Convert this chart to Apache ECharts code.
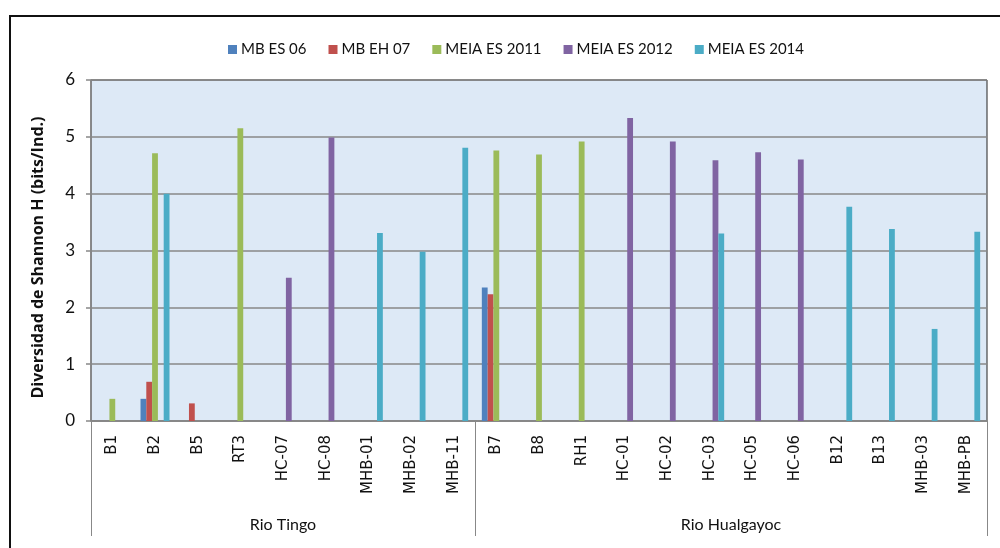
<!DOCTYPE html>
<html>
<head>
<meta charset="utf-8">
<script src="https://cdn.jsdelivr.net/npm/echarts@6/dist/echarts.min.js"></script>
<style>
  html, body { margin: 0; padding: 0; background: #fff; overflow: hidden; }
  #chart { position: absolute; left: 0; top: 0; width: 1000px; height: 548px; }
  #frame { position: absolute; left: 9px; top: 15px; width: 1000px; height: 600px;
           border: 2px solid #111; pointer-events: none; }
</style>
</head>
<body>
<div id="chart"></div>
<div id="frame"></div>
<script>
// categories (sites) and river groups
const sites = ['B1', 'B2', 'B5', 'RT3', 'HC-07', 'HC-08', 'MHB-01', 'MHB-02', 'MHB-11',
  'B7', 'B8', 'RH1', 'HC-01', 'HC-02', 'HC-03', 'HC-05', 'HC-06', 'B12', 'B13', 'MHB-03', 'MHB-PB']
const groups = ['Rio Tingo', 'Rio Hualgayoc']
const groupSizes = [9, 12]

const seriesNames = ['MB ES 06', 'MB EH 07', 'MEIA ES 2011', 'MEIA ES 2012', 'MEIA ES 2014']
const seriesColors = ['#4f81bd', '#c0504d', '#9bbb59', '#8064a2', '#4bacc6']

// Shannon H per site (null = no sample)
const mbEs06 = [null, 0.39, null, null, null, null, null, null, null,
  2.35, null, null, null, null, null, null, null, null, null, null, null]
const mbEh07 = [null, 0.69, 0.31, null, null, null, null, null, null,
  2.23, null, null, null, null, null, null, null, null, null, null, null]
const meia2011 = [0.39, 4.71, null, 5.15, null, null, null, null, null,
  4.76, 4.69, 4.92, null, null, null, null, null, null, null, null, null]
const meia2012 = [null, null, null, null, 2.52, 4.99, null, null, null,
  null, null, null, 5.33, 4.92, 4.59, 4.73, 4.60, null, null, null, null]
const meia2014 = [null, 4.0, null, null, null, null, 3.31, 2.98, 4.81,
  null, null, null, null, null, 3.30, null, null, 3.77, 3.38, 1.62, 3.33]

const yTicks = [0, 1, 2, 3, 4, 5, 6]

const seriesData = [mbEs06, mbEh07, meia2011, meia2012, meia2014]

// group axis in half-category steps: labels at each group's centre,
// long ticks at the group boundaries
const groupAxis = []
for (let i = 0; i <= sites.length * 2; i++) groupAxis.push('')
const boundaries = [0]
let start = 0
groupSizes.forEach((n, gi) => {
  groupAxis[2 * start + n] = groups[gi]
  start += n
  boundaries.push(start * 2)
})

const chart = echarts.init(document.getElementById('chart'))

const fontLabel = 'Lato, "Open Sans", sans-serif'

const option = {
  animation: false,
  legend: {
    top: 37,
    left: 223,
    itemWidth: 9,
    itemHeight: 9,
    itemGap: 22,
    icon: 'rect',
    textStyle: { fontFamily: fontLabel, fontSize: 15, color: '#111', padding: [0, 0, 0, -1] },
    data: seriesNames
  },
  grid: {
    left: 91, right: 13, top: 80, bottom: 127,
    show: true,
    backgroundColor: '#dde9f6',
    borderColor: '#222',
    borderWidth: 1
  },
  xAxis: [
    {
      type: 'category',
      data: sites,
      axisLine: { lineStyle: { color: '#888', width: 1.5 } },
      axisTick: { show: false },
      axisLabel: {
        rotate: 90,
        interval: 0,
        margin: 14,
        fontFamily: '"DejaVu Sans", sans-serif',
        fontSize: 15,
        color: '#111'
      }
    },
    {
      type: 'category',
      position: 'bottom',
      data: groupAxis,
      boundaryGap: false,
      axisLine: { show: false },
      axisTick: {
        show: true,
        length: 115,
        interval: (i) => boundaries.indexOf(i) !== -1,
        lineStyle: { color: '#888', width: 1 }
      },
      axisLabel: {
        interval: 0,
        margin: 96,
        fontFamily: fontLabel,
        fontSize: 16,
        color: '#111'
      }
    }
  ],
  yAxis: {
    type: 'value',
    min: yTicks[0],
    max: yTicks[yTicks.length - 1],
    interval: 1,
    name: 'Diversidad de Shannon H (bits/Ind.)',
    nameLocation: 'middle',
    nameGap: 45,
    nameTextStyle: {
      fontFamily: '"Open Sans", sans-serif', fontSize: 16, fontWeight: 'bold', color: '#111',
      padding: [0, 14, 0, 0]
    },
    axisLine: { show: true, lineStyle: { color: '#888', width: 1.5 } },
    axisTick: { show: true, length: 5, lineStyle: { color: '#888', width: 1.5 } },
    axisLabel: { fontFamily: fontLabel, fontSize: 17, color: '#111', margin: 16 },
    splitLine: { lineStyle: { color: '#878787', width: 1.5 } }
  },
  series: seriesNames.map((name, i) => ({
    name: name,
    type: 'bar',
    xAxisIndex: 0,
    data: seriesData[i],
    barWidth: 5.8,
    barGap: '0%',
    itemStyle: { color: seriesColors[i] }
  }))
}

chart.setOption(option)
</script>
</body>
</html>
